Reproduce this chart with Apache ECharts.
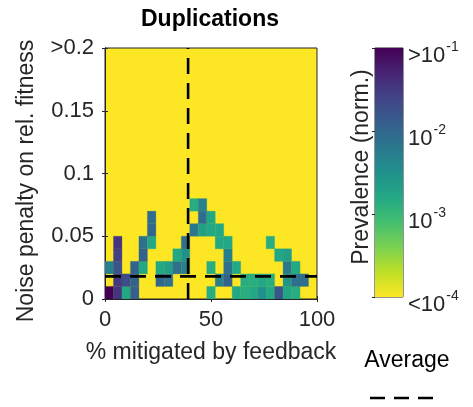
<!DOCTYPE html>
<html>
<head>
<meta charset="utf-8">
<script src="https://cdn.jsdelivr.net/npm/echarts@6/dist/echarts.min.js"></script>
<style>
html,body{margin:0;padding:0;background:#fff;}
#chart{width:473px;height:407px;}
</style>
</head>
<body>
<div id="chart"></div>
<script>
// Bin starts (x: % mitigated by feedback, y: noise penalty)
const xBinStart = [0,4,8,12,16,20,24,28,32,36,40,44,48,52,56,60,64,68,72,76,80,84,88,92,96];
const yBinStart = [0,0.01,0.02,0.03,0.04,0.05,0.06,0.07];
const xBinWidth = 4;
const yBinWidth = 0.01;
// log10 prevalence (normalized); null = below 1e-4
const row0 = [-1.0,-1.45,-2.8,-1.9,null,null,null,null,null,null,null,null,-2.85,null,null,-2.8,-2.85,-2.8,-2.5,-2.8,-1.8,-2.75,-2.85,null,null];
const row1 = [null,-1.5,-1.7,-1.95,null,null,-2.0,-2.1,null,null,null,null,null,-2.3,-1.95,null,-2.85,-2.85,-2.8,-2.85,null,-2.55,-2.1,-2.1,null];
const row2 = [-2.3,-1.75,null,-1.95,-2.8,null,-2.8,-2.7,-2.1,-2.3,null,null,-2.85,null,-2.1,-2.8,null,null,null,null,null,-2.2,-2.8,null,null];
const row3 = [null,-1.55,null,null,-1.95,null,null,null,-2.8,-2.5,null,null,null,null,-2.3,null,null,null,null,null,-2.8,-2.7,null,null,null];
const row4 = [null,-1.45,null,null,-2.1,-2.8,null,null,null,-2.1,null,null,null,-2.8,-2.8,null,null,null,null,-2.85,null,null,null,null,null];
const row5 = [null,null,null,null,null,-2.0,null,null,null,null,-2.2,-2.7,-2.8,-2.8,null,null,null,null,null,null,null,null,null,null,null];
const row6 = [null,null,null,null,null,-2.05,null,null,null,null,null,-2.05,-2.8,null,null,null,null,null,null,null,null,null,null,null,null];
const row7 = [null,null,null,null,null,null,null,null,null,null,-2.85,-2.3,null,null,null,null,null,null,null,null,null,null,null,null,null];
const rows = [row0,row1,row2,row3,row4,row5,row6,row7];
// Averages (dashed lines)
const avgMitigated = 39.2;
const avgPenalty = 0.018;
// Tick labels
const yTickLabels = {0:'0',0.05:'0.05',0.1:'0.1',0.15:'0.15',0.2:'>0.2'};
const cbTicks = [-4,-3,-2,-1];
const cbTickLabels = {'-4':'{b|<10}{s|-4}','-3':'{b|10}{s|-3}','-2':'{b|10}{s|-2}','-1':'{b|>10}{s|-1}'};

const viridis = ['#440154','#482475','#414487','#355f8d','#2a788e','#21918c','#22a884','#44bf70','#7ad151','#bddf26','#fde725'];
const FONT = 'Liberation Sans, Arial, Helvetica, sans-serif';
const TXT = '#262626';

const cells = [];
rows.forEach(function(r, j){
  r.forEach(function(v, i){
    if (v !== null) cells.push([xBinStart[i], yBinStart[j], v]);
  });
});

const chart = echarts.init(document.getElementById('chart'), null, {renderer:'canvas'});

function cellRender(params, api){
  const x0 = api.value(0), y0 = api.value(1);
  const p0 = api.coord([x0, y0]);
  const p1 = api.coord([x0 + xBinWidth, y0 + yBinWidth]);
  return {type:'rect', shape:{x:p0[0], y:p1[1], width:p1[0]-p0[0], height:p0[1]-p1[1]},
    style:{fill: api.visual('color'), stroke: api.visual('color'), lineWidth:0.3}};
}
function cbRender(params, api){
  const p0 = api.coord([0, api.value(0)]);
  const p1 = api.coord([1, api.value(1)]);
  const stops = viridis.map(function(c, k){ return {offset: k/(viridis.length-1), color: c}; });
  return {type:'rect', shape:{x:p0[0], y:p1[1], width:p1[0]-p0[0], height:p0[1]-p1[1]},
    style:{fill:{type:'linear', x:0, y:0, x2:0, y2:1, colorStops: stops}}};
}

const tickStyle = {show:true, inside:true, length:3, lineStyle:{color:TXT}};
const lineStyleAxis = {show:true, lineStyle:{color:TXT, width:1}};

chart.setOption({
  animation:false,
  backgroundColor:'#ffffff',
  textStyle:{fontFamily:FONT},
  grid:[
    {left:105, top:48, width:212, height:251, show:true, backgroundColor:'#fde725', borderColor:TXT, borderWidth:1},
    {left:375, top:48, width:28, height:249, show:true, backgroundColor:'transparent', borderColor:TXT, borderWidth:1}
  ],
  xAxis:[
    {type:'value', gridIndex:0, min:0, max:100, interval:50, position:'bottom',
      axisLine:lineStyleAxis, axisTick:tickStyle, splitLine:{show:false},
      axisLabel:{fontSize:22, color:TXT, margin:10, fontFamily:FONT}},
    {type:'value', gridIndex:0, min:0, max:100, interval:50, position:'top',
      axisLine:lineStyleAxis, axisTick:tickStyle, splitLine:{show:false}, axisLabel:{show:false}},
    {type:'value', gridIndex:1, min:0, max:1, show:false}
  ],
  yAxis:[
    {type:'value', gridIndex:0, min:0, max:0.2, interval:0.05, position:'left',
      axisLine:lineStyleAxis, axisTick:tickStyle, splitLine:{show:false},
      axisLabel:{fontSize:22, color:TXT, margin:11, fontFamily:FONT,
        formatter:function(v){ return yTickLabels[Math.round(v*100)/100]; }}},
    {type:'value', gridIndex:0, min:0, max:0.2, interval:0.05, position:'right',
      axisLine:lineStyleAxis, axisTick:tickStyle, splitLine:{show:false}, axisLabel:{show:false}},
    {type:'value', gridIndex:1, min:-4, max:-1, interval:1, position:'right',
      axisLine:{show:false}, axisTick:{show:true, inside:true, length:3, lineStyle:{color:TXT}}, splitLine:{show:false},
      axisLabel:{margin:5, color:TXT, fontFamily:FONT, verticalAlign:'middle', padding:[11,0,0,0],
        formatter:function(v){ return cbTickLabels[String(v)]; },
        rich:{
          b:{fontSize:22, color:TXT, fontFamily:FONT, lineHeight:26, verticalAlign:'bottom'},
          s:{fontSize:14, color:TXT, fontFamily:FONT, lineHeight:26, verticalAlign:'top', padding:[0,0,0,1]}
        }}}
  ],
  visualMap:{show:false, type:'continuous', min:-4, max:-1, dimension:2, seriesIndex:0,
    inRange:{color: viridis.slice().reverse()}},
  series:[
    {type:'custom', xAxisIndex:0, yAxisIndex:0, data:cells, renderItem:cellRender, clip:true, silent:true},
    {type:'line', xAxisIndex:0, yAxisIndex:0, data:[[avgMitigated,0],[avgMitigated,0.2]], symbol:'none',
      lineStyle:{color:'#000', width:2.6, type:[16,9]}, silent:true, z:5},
    {type:'line', xAxisIndex:0, yAxisIndex:0, data:[[0,avgPenalty],[100,avgPenalty]], symbol:'none',
      lineStyle:{color:'#000', width:2.6, type:[16,9]}, silent:true, z:5},
    {type:'custom', xAxisIndex:2, yAxisIndex:2, data:[[-4,-1]], renderItem:cbRender, silent:true}
  ],
  graphic:[
    {type:'text', x:210, y:20, style:{text:'Duplications', fontSize:23, fontWeight:'bold', fill:'#000', fontFamily:FONT,
      align:'center', verticalAlign:'middle'}},
    {type:'text', x:27, y:181, rotation:Math.PI/2, style:{text:'Noise penalty on rel. fitness', fontSize:23, fill:TXT, fontFamily:FONT, align:'center', verticalAlign:'middle'}},
    {type:'text', x:211, y:353, style:{text:'% mitigated by feedback', fontSize:23, fill:TXT, fontFamily:FONT, align:'center', verticalAlign:'middle'}},
    {type:'text', x:362, y:167, rotation:Math.PI/2, style:{text:'Prevalence (norm.)', fontSize:23, fill:TXT, fontFamily:FONT, align:'center', verticalAlign:'middle'}},
    {type:'text', x:407, y:361, style:{text:'Average', fontSize:23, fill:'#000', fontFamily:FONT, align:'center', verticalAlign:'middle'}},
    {type:'line', shape:{x1:370, y1:398, x2:434, y2:398}, style:{stroke:'#000', lineWidth:2.6, lineDash:[15,9]}}
  ]
});
</script>
</body>
</html>
